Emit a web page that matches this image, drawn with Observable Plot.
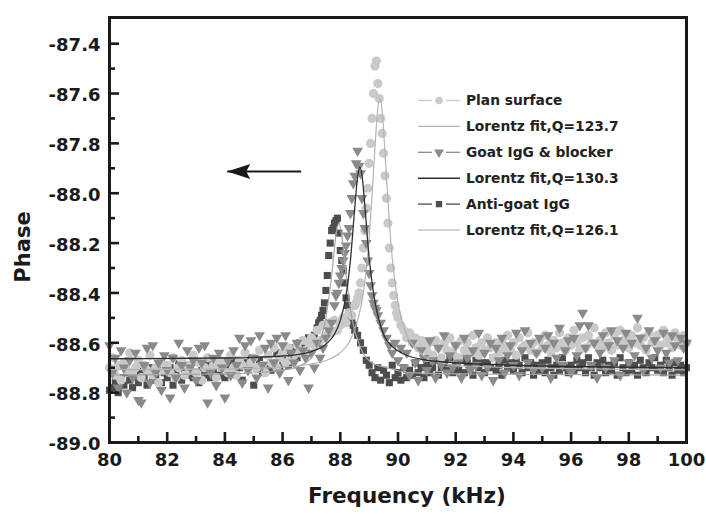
<!DOCTYPE html>
<html><head><meta charset="utf-8">
<script src="https://cdn.jsdelivr.net/npm/d3@7"></script>
<script src="https://cdn.jsdelivr.net/npm/@observablehq/plot@0.6"></script>
<style>
body{margin:0;background:#fff;}
#wrap{position:relative;width:706px;height:514px;overflow:hidden;}
#legend{position:absolute;left:0;top:0;pointer-events:none;}
</style></head><body><div id="wrap"></div>
<script>
// ---------- data ----------
const freqStart = 80, freqStep = 0.1;   // sampling grid of the measured series (201 points)

const planSurface = [
-88.70,-88.66,-88.73,-88.69,-88.75,-88.68,-88.71,-88.64,-88.72,-88.70,
-88.67,-88.74,-88.69,-88.71,-88.65,-88.73,-88.70,-88.76,-88.68,-88.71,
-88.69,-88.72,-88.66,-88.74,-88.70,-88.67,-88.73,-88.69,-88.71,-88.65,
-88.72,-88.68,-88.75,-88.70,-88.66,-88.71,-88.69,-88.74,-88.67,-88.70,
-88.68,-88.72,-88.65,-88.70,-88.73,-88.67,-88.69,-88.64,-88.71,-88.68,
-88.66,-88.70,-88.63,-88.69,-88.72,-88.65,-88.68,-88.62,-88.70,-88.66,
-88.64,-88.68,-88.62,-88.67,-88.65,-88.61,-88.64,-88.59,-88.63,-88.60,
-88.58,-88.61,-88.55,-88.59,-88.53,-88.57,-88.52,-88.56,-88.51,-88.55,
-88.53,-88.50,-88.52,-88.48,-88.49,-88.45,-88.42,-88.36,-88.22,-88.06,
-87.88,-87.70,-87.49,-87.56,-87.70,-87.84,-88.02,-88.22,-88.36,-88.45,
-88.50,-88.53,-88.55,-88.58,-88.56,-88.60,-88.58,-88.62,-88.59,-88.61,
-88.63,-88.60,-88.65,-88.59,-88.62,-88.66,-88.60,-88.63,-88.58,-88.64,
-88.61,-88.66,-88.59,-88.63,-88.60,-88.64,-88.57,-88.62,-88.65,-88.60,
-88.63,-88.58,-88.62,-88.66,-88.60,-88.64,-88.59,-88.62,-88.57,-88.63,
-88.60,-88.65,-88.58,-88.62,-88.61,-88.56,-88.63,-88.60,-88.64,-88.59,
-88.62,-88.57,-88.61,-88.64,-88.59,-88.62,-88.56,-88.60,-88.63,-88.58,
-88.61,-88.55,-88.60,-88.63,-88.58,-88.62,-88.57,-88.60,-88.54,-88.61,
-88.59,-88.62,-88.56,-88.60,-88.63,-88.57,-88.61,-88.55,-88.60,-88.58,
-88.62,-88.57,-88.60,-88.54,-88.61,-88.58,-88.63,-88.56,-88.60,-88.59,
-88.57,-88.61,-88.55,-88.60,-88.58,-88.62,-88.56,-88.59,-88.61,-88.57,-88.60
];
const planPeakFreq  = [88.55,88.65,88.75,88.85,88.95,89.05,89.15,89.25,89.35,89.45,89.55,89.65,89.75,89.85,89.95];
const planPeakPhase = [-88.44,-88.40,-88.30,-88.15,-87.98,-87.80,-87.60,-87.47,-87.62,-87.76,-87.93,-88.12,-88.30,-88.41,-88.48];

const goatBlocker = [
-88.61,-88.72,-88.66,-88.78,-88.63,-88.70,-88.80,-88.67,-88.74,-88.64,
-88.83,-88.84,-88.69,-88.62,-88.76,-88.61,-88.72,-88.68,-88.79,-88.65,
-88.71,-88.82,-88.66,-88.74,-88.60,-88.69,-88.78,-88.63,-88.70,-88.67,
-88.75,-88.62,-88.68,-88.61,-88.84,-88.72,-88.66,-88.77,-88.64,-88.70,
-88.82,-88.67,-88.73,-88.63,-88.69,-88.58,-88.76,-88.61,-88.71,-88.59,
-88.66,-88.74,-88.57,-88.69,-88.62,-88.78,-88.60,-88.68,-88.58,-88.72,
-88.61,-88.57,-88.75,-88.64,-88.68,-88.60,-88.71,-88.63,-88.66,-88.78,
-88.64,-88.70,-88.60,-88.66,-88.62,-88.58,-88.55,-88.52,-88.45,-88.40,
-88.33,-88.27,-88.21,-88.14,-88.02,-87.93,-87.83,-87.92,-88.08,-88.20,
-88.32,-88.41,-88.46,-88.49,-88.52,-88.55,-88.58,-88.61,-88.64,-88.60,
-88.67,-88.62,-88.70,-88.64,-88.73,-88.60,-88.68,-88.75,-88.63,-88.66,
-88.71,-88.59,-88.67,-88.74,-88.62,-88.69,-88.57,-88.72,-88.65,-88.70,
-88.61,-88.68,-88.74,-88.58,-88.66,-88.71,-88.63,-88.69,-88.56,-88.73,
-88.64,-88.70,-88.60,-88.75,-88.62,-88.67,-88.58,-88.72,-88.65,-88.61,
-88.69,-88.56,-88.73,-88.63,-88.55,-88.68,-88.60,-88.71,-88.64,-88.58,
-88.70,-88.62,-88.57,-88.74,-88.60,-88.66,-88.54,-88.69,-88.63,-88.59,
-88.72,-88.58,-88.65,-88.53,-88.48,-88.62,-88.53,-88.69,-88.60,-88.74,
-88.64,-88.57,-88.70,-88.61,-88.55,-88.67,-88.59,-88.73,-88.62,-88.56,
-88.68,-88.60,-88.65,-88.50,-88.58,-88.71,-88.62,-88.55,-88.66,-88.59,
-88.63,-88.70,-88.56,-88.64,-88.68,-88.57,-88.61,-88.67,-88.58,-88.62,-88.60
];
const goatPeakFreq  = [87.85,87.95,88.05,88.15,88.25,88.35,88.45,88.55,88.65,88.75,88.85,88.95,89.05,89.15,89.25];
const goatPeakPhase = [-88.41,-88.36,-88.30,-88.24,-88.17,-88.08,-87.96,-87.88,-87.89,-88.02,-88.14,-88.27,-88.37,-88.44,-88.47];

const antiGoat = [
-88.79,-88.78,-88.76,-88.80,-88.74,-88.77,-88.72,-88.75,-88.78,-88.73,
-88.76,-88.71,-88.74,-88.77,-88.70,-88.75,-88.73,-88.69,-88.76,-88.72,
-88.74,-88.70,-88.77,-88.72,-88.68,-88.75,-88.71,-88.73,-88.69,-88.74,
-88.72,-88.76,-88.70,-88.73,-88.68,-88.74,-88.71,-88.67,-88.73,-88.70,
-88.74,-88.69,-88.72,-88.67,-88.73,-88.70,-88.75,-88.68,-88.71,-88.66,
-88.77,-88.70,-88.67,-88.72,-88.69,-88.65,-88.71,-88.68,-88.64,-88.70,
-88.67,-88.63,-88.69,-88.65,-88.62,-88.66,-88.60,-88.64,-88.61,-88.58,
-88.60,-88.57,-88.54,-88.51,-88.47,-88.39,-88.25,-88.15,-88.12,-88.10,
-88.23,-88.31,-88.42,-88.48,-88.52,-88.55,-88.57,-88.60,-88.63,-88.67,
-88.69,-88.72,-88.74,-88.70,-88.75,-88.71,-88.73,-88.76,-88.69,-88.74,
-88.72,-88.75,-88.70,-88.74,-88.71,-88.73,-88.68,-88.72,-88.70,-88.74,
-88.69,-88.72,-88.70,-88.67,-88.73,-88.70,-88.68,-88.71,-88.66,-88.72,
-88.69,-88.71,-88.67,-88.72,-88.68,-88.70,-88.73,-88.67,-88.70,-88.68,
-88.72,-88.68,-88.70,-88.66,-88.71,-88.69,-88.73,-88.67,-88.70,-88.68,
-88.71,-88.67,-88.69,-88.72,-88.66,-88.70,-88.68,-88.73,-88.69,-88.71,
-88.68,-88.72,-88.67,-88.70,-88.73,-88.69,-88.71,-88.66,-88.70,-88.72,
-88.69,-88.71,-88.67,-88.70,-88.68,-88.72,-88.66,-88.70,-88.73,-88.68,
-88.70,-88.67,-88.72,-88.69,-88.71,-88.68,-88.73,-88.66,-88.70,-88.72,
-88.68,-88.71,-88.69,-88.73,-88.67,-88.70,-88.72,-88.68,-88.70,-88.66,
-88.71,-88.69,-88.72,-88.67,-88.70,-88.73,-88.68,-88.71,-88.69,-88.72,-88.70
];
const antiPeakFreq  = [87.25,87.35,87.45,87.55,87.65,87.75,87.85,87.95,88.05,88.15,88.25,88.35,88.45];
const antiPeakPhase = [-88.52,-88.49,-88.44,-88.33,-88.20,-88.14,-88.11,-88.16,-88.27,-88.36,-88.45,-88.50,-88.53];

// Lorentz fit curves
const planFitFreq  = [80,84,86,87,87.5,88,88.3,88.6,88.8,89.0,89.1,89.2,89.3,89.37,89.45,89.55,89.65,89.8,90.0,90.3,90.6,91,92,94,100];
const planFitPhase = [-88.708,-88.705,-88.698,-88.685,-88.671,-88.64,-88.60,-88.51,-88.40,-88.18,-88.01,-87.82,-87.66,-87.62,-87.67,-87.84,-88.03,-88.26,-88.44,-88.57,-88.62,-88.66,-88.69,-88.70,-88.709];
const goatFitFreq  = [80,84,86,87,87.5,87.8,88.0,88.2,88.35,88.5,88.6,88.68,88.76,88.85,89.0,89.15,89.3,89.5,89.8,90.2,91,92,94,100];
const goatFitPhase = [-88.664,-88.661,-88.653,-88.635,-88.606,-88.565,-88.51,-88.41,-88.27,-88.06,-87.935,-87.895,-87.935,-88.05,-88.26,-88.40,-88.49,-88.567,-88.615,-88.645,-88.67,-88.68,-88.69,-88.70];
const antiFitFreq  = [80,84,86,86.8,87.2,87.5,87.7,87.85,87.95,88.05,88.2,88.4,88.7,89.1,89.6,90.5,92,100];
const antiFitPhase = [-88.729,-88.725,-88.71,-88.68,-88.62,-88.50,-88.33,-88.17,-88.12,-88.17,-88.33,-88.50,-88.62,-88.68,-88.70,-88.72,-88.725,-88.73];

const xTickValues = [80,82,84,86,88,90,92,94,96,98,100];
const xMinorTickValues = [81,83,85,87,89,91,93,95,97,99];
const yTickValues = [-89.0,-88.8,-88.6,-88.4,-88.2,-88.0,-87.8,-87.6,-87.4];
const yMinorTickValues = [-88.9,-88.7,-88.5,-88.3,-88.1,-87.9,-87.7,-87.5];

const legendLabels = ["Plan surface","Lorentz fit,Q=123.7","Goat IgG & blocker","Lorentz fit,Q=130.3","Anti-goat IgG","Lorentz fit,Q=126.1"];
const xLabel = "Frequency (kHz)";
const yLabel = "Phase";
const arrowAnnotation = [{tail: 86.64, tip: 84.08, phase: -87.913}];

// ---------- build tables ----------
function table(values, peakF, peakP){
  const rows = values.map((v,i)=>({f: +(freqStart + i*freqStep).toFixed(2), phase: v}));
  peakF.forEach((f,i)=>rows.push({f, phase: peakP[i]}));
  return rows;
}
const planRows = table(planSurface, planPeakFreq, planPeakPhase);
const goatRows = table(goatBlocker, goatPeakFreq, goatPeakPhase);
const antiRows = table(antiGoat, antiPeakFreq, antiPeakPhase);
const fitRows = (F,P)=>F.map((f,i)=>({f, phase:P[i]}));

const C = {plan:"#c9c9c9", goat:"#8a8a8a", anti:"#4d4d4d", planFit:"#b4b4b4", goatFit:"#2e2e2e", antiFit:"#a6a6a6", ink:"#1a1a1a"};

const dart = {draw(ctx, size){ const k = Math.sqrt(size/Math.PI)/8;
  ctx.moveTo(0,0); ctx.lineTo(23*k,-7.5*k); ctx.lineTo(19*k,0); ctx.lineTo(23*k,7.5*k); ctx.closePath(); }};

const W = 706, H = 514, mL = 109, mR = 20, mT = 17, mB = 72;
const innerW = W - mL - mR, innerH = H - mT - mB;
const font = "DejaVu Sans";

const chart = Plot.plot({
  width: W, height: H,
  marginLeft: mL, marginRight: mR, marginTop: mT, marginBottom: mB,
  style: {fontFamily: font, fontWeight: "bold", background: "white", color: C.ink},
  x: {domain: [80, 100], axis: null},
  y: {domain: [-89.0, -87.295], axis: null},
  marks: [
    Plot.dot(antiRows, {x:"f", y:"phase", symbol:"square", r:4.0, fill:C.anti}),
    Plot.dot(planRows, {x:"f", y:"phase", symbol:"circle", r:4.6, fill:C.plan}),
    Plot.dot(goatRows, {x:"f", y:"phase", symbol:"triangle", rotate:180, r:4.0, fill:C.goat}),
    Plot.line(fitRows(planFitFreq, planFitPhase), {x:"f", y:"phase", stroke:C.planFit, strokeWidth:1.2, curve:"monotone-x"}),
    Plot.line(fitRows(antiFitFreq, antiFitPhase), {x:"f", y:"phase", stroke:C.antiFit, strokeWidth:1.2, curve:"monotone-x"}),
    Plot.line(fitRows(goatFitFreq, goatFitPhase), {x:"f", y:"phase", stroke:C.goatFit, strokeWidth:1.3, curve:"monotone-x"}),
    // arrow annotation
    Plot.link(arrowAnnotation, {x1:"tail", x2:"tip", y1:"phase", y2:"phase", stroke:C.ink, strokeWidth:2}),
    Plot.dot(arrowAnnotation, {x:"tip", y:"phase", symbol:dart, r:8, fill:C.ink}),
    // inward ticks
    Plot.tickX(xTickValues, {x:d=>d, insetTop: innerH-10, stroke:C.ink, strokeWidth:2.6}),
    Plot.tickX(xMinorTickValues, {x:d=>d, insetTop: innerH-6, stroke:C.ink, strokeWidth:2.6}),
    Plot.tickY(yTickValues, {y:d=>d, insetRight: innerW-10, stroke:C.ink, strokeWidth:2.6}),
    Plot.tickY(yMinorTickValues, {y:d=>d, insetRight: innerW-6, stroke:C.ink, strokeWidth:2.6}),
    Plot.frame({stroke:C.ink, strokeWidth:3}),
    // tick labels
    Plot.text(xTickValues, {x:d=>d, text:d=>String(d), frameAnchor:"bottom", lineAnchor:"top", dy:11, fontSize:18, fontWeight:"bold", fill:C.ink}),
    Plot.text(yTickValues, {y:d=>d, text:d=>d.toFixed(1), frameAnchor:"left", textAnchor:"end", dx:-9, dy:2, fontSize:18, fontWeight:"bold", fill:C.ink})
  ]
});
const wrap = document.getElementById("wrap");
wrap.appendChild(chart);

// ---------- overlay: axis titles and legend ----------
const leg = d3.select(wrap).append("svg").attr("id","legend").attr("width",W).attr("height",H);
leg.append("text").attr("x",407).attr("y",495).attr("dy","0.36em").attr("text-anchor","middle")
  .attr("font-family",font).attr("font-weight","bold").attr("font-size",21.5).attr("fill",C.ink).text(xLabel);
leg.append("text").attr("transform","translate(22,247) rotate(-90)").attr("dy","0.36em").attr("text-anchor","middle")
  .attr("font-family",font).attr("font-weight","bold").attr("font-size",21).attr("fill",C.ink).text(yLabel);

const rowY0 = 100.5, rowDy = 25.9, x0 = 418, x1 = 460, tx = 466;
const styles = [
  {kind:"sym", color:C.plan, sym:d3.symbolCircle, size:44, rot:0},
  {kind:"fit", color:C.planFit, w:1.2},
  {kind:"sym", color:C.goat, sym:d3.symbolTriangle, size:44, rot:180},
  {kind:"fit", color:C.goatFit, w:1.4},
  {kind:"sym", color:C.anti, sym:d3.symbolSquare, size:40, rot:0},
  {kind:"fit", color:C.antiFit, w:1.2}
];
legendLabels.forEach((lab,i)=>{
  const y = rowY0 + i*rowDy, s = styles[i];
  const g = leg.append("g");
  if (s.kind === "fit") {
    g.append("line").attr("x1",x0).attr("x2",x1).attr("y1",y).attr("y2",y).attr("stroke",s.color).attr("stroke-width",s.w);
  } else {
    g.append("line").attr("x1",x0).attr("x2",x0+14).attr("y1",y).attr("y2",y).attr("stroke",s.color).attr("stroke-width",1.3);
    g.append("line").attr("x1",x1-14).attr("x2",x1).attr("y1",y).attr("y2",y).attr("stroke",s.color).attr("stroke-width",1.3);
    g.append("path").attr("d", d3.symbol(s.sym, s.size)()).attr("fill",s.color)
      .attr("transform",`translate(${(x0+x1)/2},${y}) rotate(${s.rot})`);
  }
  g.append("text").attr("x",tx).attr("y",y).attr("dy","0.36em").text(lab)
    .attr("font-family",font).attr("font-weight","bold").attr("font-size",13.8).attr("fill","#222");
});
</script></body></html>
